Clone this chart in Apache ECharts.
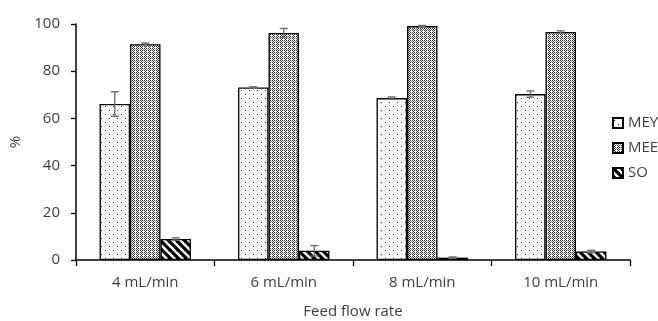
<!DOCTYPE html>
<html><head><meta charset="utf-8">
<script src="https://cdn.jsdelivr.net/npm/echarts@6/dist/echarts.min.js"></script>
<style>html,body{margin:0;padding:0;background:#fff}#c{width:658px;height:321px}</style>
</head><body><div id="c"></div>
<script>
const categories = ['4 mL/min', '6 mL/min', '8 mL/min', '10 mL/min'];
const seriesNames = ['MEY', 'MEE', 'SO'];
const meyValues = [66.1, 73.1, 68.6, 70.3];
const meyErrors = [5.2, 0.3, 0.5, 1.3];
const meeValues = [91.4, 96.2, 99.1, 96.6];
const meeErrors = [0.5, 1.9, 0.3, 0.5];
const soValues = [8.9, 3.9, 1.0, 3.6];
const soErrors = [0.5, 2.2, 0.3, 0.5];
const yTicks = [0, 20, 40, 60, 80, 100];

function tile(w, h, draw) {
  const c = document.createElement('canvas');
  c.width = w; c.height = h;
  const g = c.getContext('2d');
  g.fillStyle = '#fff'; g.fillRect(0, 0, w, h);
  draw(g);
  return c;
}
const dotTile = tile(8, 8, g => {
  g.fillStyle = '#222';
  g.fillRect(1, 2, 1, 1);
  g.fillRect(5, 6, 1, 1);
});
const denseTile = tile(4, 4, g => {
  g.fillStyle = '#333';
  for (let x = 0; x < 4; x++) for (let y = 0; y < 4; y++) {
    if ((x + y) % 2 === 0 && x !== 3) g.fillRect(x, y, 1, 1);
  }
  g.fillStyle = '#999';
  g.fillRect(3, 1, 1, 1);
});
const stripeTile = tile(8, 8, g => {
  g.strokeStyle = '#000'; g.lineWidth = 3.2;
  for (let k = -8; k <= 8; k += 8) {
    g.beginPath(); g.moveTo(k - 2, -2); g.lineTo(k + 10, 10); g.stroke();
  }
});
const patterns = [dotTile, denseTile, stripeTile];
const values = [meyValues, meeValues, soValues];
const errors = [meyErrors, meeErrors, soErrors];
const GAP = 0.34;

const font = '"Open Sans", sans-serif';
const series = [];
seriesNames.forEach((name, i) => {
  series.push({
    name, type: 'bar', data: values[i],
    barGap: '0%', barCategoryGap: (GAP * 100) + '%',
    itemStyle: { color: { image: patterns[i], repeat: 'repeat' }, borderColor: '#000', borderWidth: 1.3 },
    emphasis: { disabled: true }, animation: false
  });
});
seriesNames.forEach((name, i) => {
  series.push({
    type: 'custom', z: 10, animation: false, silent: true,
    data: values[i].map((v, j) => [j, v, errors[i][j]]),
    encode: { x: 0, y: 1 },
    renderItem(params, api) {
      const cat = api.value(0), v = api.value(1), e = api.value(2);
      const catW = api.size([1, 0])[0];
      const bw = catW * (1 - GAP) / 3;
      const base = api.coord([cat, v]);
      const x = base[0] + (i - 1) * bw;
      const yh = api.coord([cat, v + e])[1];
      const yl = api.coord([cat, Math.max(v - e, 0)])[1];
      const cw = 4;
      const st = { stroke: '#6e6e6e', lineWidth: 1.4 };
      return { type: 'group', children: [
        { type: 'line', shape: { x1: x, y1: yh, x2: x, y2: yl }, style: st },
        { type: 'line', shape: { x1: x - cw, y1: yh, x2: x + cw, y2: yh }, style: st },
        { type: 'line', shape: { x1: x - cw, y1: yl, x2: x + cw, y2: yl }, style: st }
      ]};
    }
  });
});

const chart = echarts.init(document.getElementById('c'), null, { renderer: 'canvas' });
chart.setOption({
  animation: false,
  backgroundColor: '#fff',
  textStyle: { fontFamily: font },
  grid: { left: 76, right: 28, top: 24, bottom: 61, containLabel: false, outerBoundsMode: 'none' },
  legend: {
    data: seriesNames, orient: 'vertical', left: 612, top: 115, padding: 0,
    icon: 'rect', itemWidth: 10, itemHeight: 10, itemGap: 9, itemTextGap: 4,
    selectedMode: false,
    textStyle: { fontFamily: font, fontSize: 15, color: '#404040', lineHeight: 16 }
  },
  xAxis: {
    type: 'category', data: categories,
    name: 'Feed flow rate', nameLocation: 'middle', nameGap: 44,
    nameTextStyle: { fontFamily: font, fontSize: 15, color: '#404040' },
    axisLine: { lineStyle: { color: '#000', width: 1.5 } },
    axisTick: { show: true, length: 6, lineStyle: { color: '#000', width: 1.3 } },
    axisLabel: { fontFamily: font, fontSize: 15, color: '#404040', margin: 15 }
  },
  yAxis: {
    type: 'value', min: yTicks[0], max: yTicks[yTicks.length - 1], interval: 20,
    name: '%', nameLocation: 'middle', nameGap: 52,
    nameTextStyle: { fontFamily: font, fontSize: 15, color: '#404040' },
    axisLine: { show: true, lineStyle: { color: '#000', width: 1.5 } },
    axisTick: { show: true, length: 5, lineStyle: { color: '#000', width: 1.3 } },
    splitLine: { show: false },
    axisLabel: { fontFamily: font, fontSize: 15, color: '#404040', margin: 16 }
  },
  series
});
</script></body></html>
